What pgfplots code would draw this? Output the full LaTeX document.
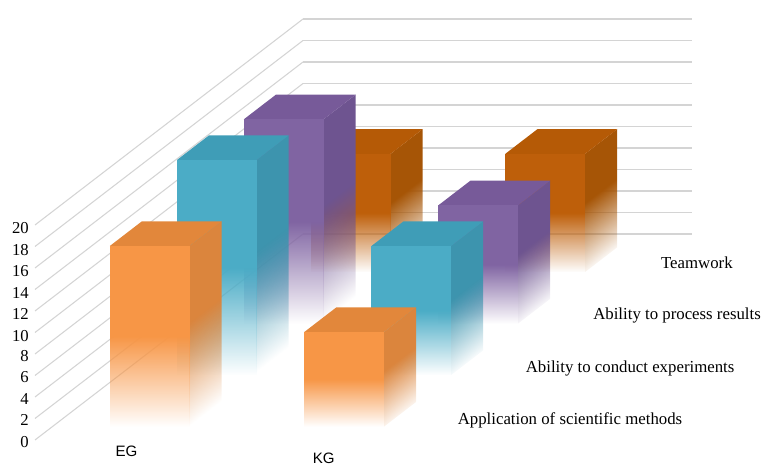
\documentclass[border=0pt]{standalone}
\usepackage{fontspec}
\setmainfont{Liberation Serif}
\newfontfamily\labsans{Liberation Sans}
\usepackage{pgfplots}
\pgfplotsset{compat=1.18}
\usetikzlibrary{fadings}

\definecolor{orgF}{HTML}{F79646}
\definecolor{orgS}{HTML}{DB853D}
\definecolor{orgT}{HTML}{E2873B}
\definecolor{cyaF}{HTML}{4BACC6}
\definecolor{cyaS}{HTML}{3D94AE}
\definecolor{cyaT}{HTML}{3F9DB7}
\definecolor{purF}{HTML}{8064A2}
\definecolor{purS}{HTML}{6E5490}
\definecolor{purT}{HTML}{775A99}
\definecolor{broF}{HTML}{BE5F0A}
\definecolor{broS}{HTML}{A65506}
\definecolor{broT}{HTML}{B55A06}

\tikzfading[name=barfade, top color=transparent!0, bottom color=transparent!100, middle color=transparent!0]

% x0 x1 y0 y1 value colour; the side fade follows the slanted foot of the face
\newcommand{\onebar}[6]{
  \pgfmathsetmacro{\sideang}{atan(24.7/(10.75*#5+24.7))}
  \edef\doside{\noexpand\addplot3[draw=none, fill=#6S, path fading=barfade, fading transform={rotate=\sideang, yshift=3.5pt}] coordinates {(#2,#3,0) (#2,#4,0) (#2,#4,#5) (#2,#3,#5)};}
  \doside
  \addplot3[draw=none, fill=#6T] coordinates {(#1,#3,#5) (#2,#3,#5) (#2,#4,#5) (#1,#4,#5)};
  \addplot3[draw=none, fill=#6F, path fading=barfade] coordinates {(#1,#3,0) (#2,#3,0) (#2,#3,#5) (#1,#3,#5)};
}

\begin{document}
\begin{tikzpicture}
\path[use as bounding box] (-26.25pt,-19.5pt) rectangle (544.5pt,330pt);
\begin{axis}[
  anchor=origin, at={(0,0)},
  x={(145.875pt,0pt)}, y={(50.25pt,38.625pt)}, z={(0pt,8.0625pt)},
  xmin=0, xmax=2, ymin=0, ymax=4, zmin=0, zmax=20,
  xtick=\empty, ytick=\empty,
  ztick={0,2,...,20},
  zmajorgrids=true,
  major grid style={draw=black!17, line width=0.8pt},
  axis line style={draw=none},
  major tick length=0pt,
  z tick label style={font=\fontsize{12.5}{12.5}\selectfont, inner sep=1pt, xshift=-3.5pt},
  /pgf/number format/assume math mode=true,
  clip=false,
]
% back row first
\onebar{0.295}{0.705}{3.26}{3.74}{11}{bro}
\onebar{1.295}{1.705}{3.26}{3.74}{11}{bro}
\onebar{0.295}{0.705}{2.26}{2.74}{19}{pur}
\onebar{1.295}{1.705}{2.26}{2.74}{11}{pur}
\onebar{0.295}{0.705}{1.26}{1.74}{20}{cya}
\onebar{1.295}{1.705}{1.26}{1.74}{12}{cya}
\onebar{0.295}{0.705}{0.26}{0.74}{16.8}{org}
\onebar{1.295}{1.705}{0.26}{0.74}{8.8}{org}

\node[inner sep=0pt, font=\labsans\fontsize{11.3}{11.3}\selectfont] at (axis cs:0.5466,-0.22,0) {EG};
\node[inner sep=0pt, font=\labsans\fontsize{11.3}{11.3}\selectfont] at (axis cs:1.609,-0.36,0) {KG};
\node[font=\fontsize{12.6}{12.6}\selectfont] at (axis cs:2.219,3.437,0) {Teamwork};
\node[font=\fontsize{12.6}{12.6}\selectfont] at (axis cs:2.465,2.427,0) {Ability to process results};
\node[font=\fontsize{12.6}{12.6}\selectfont] at (axis cs:2.578,1.398,0) {Ability to conduct experiments};
\node[font=\fontsize{12.6}{12.6}\selectfont] at (axis cs:2.617,0.388,0) {Application of scientific methods};
\end{axis}
\end{tikzpicture}
\end{document}
